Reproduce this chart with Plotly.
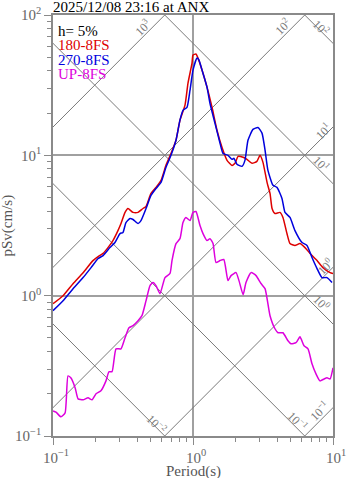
import numpy as np
import plotly.graph_objects as go

# ---- data -----------------------------------------------------------------
title_text = "2025/12/08 23:16 at ANX"
damping_text = "h= 5%"

names = ["180-8FS", "270-8FS", "UP-8FS"]
colors = ["#dd0000", "#0000dd", "#dd00dd"]

period_180 = [0.100, 0.118, 0.139, 0.164, 0.193, 0.210, 0.228, 0.247, 0.268, 0.291,
              0.306, 0.327, 0.343, 0.373, 0.405, 0.439, 0.462, 0.501, 0.544, 0.591,
              0.641, 0.696, 0.756, 0.807, 0.877, 0.921, 0.984, 1.000, 1.050, 1.086,
              1.160, 1.259, 1.367, 1.484, 1.610, 1.750, 1.900, 1.995, 2.100, 2.280,
              2.430, 2.640, 2.860, 3.010, 3.160, 3.380, 3.550, 3.670, 3.850, 4.180,
              4.390, 4.690, 4.930, 5.350, 5.810, 6.310, 6.850, 7.690, 8.480, 9.530, 10.0]
psv_180 = [0.877, 1.000, 1.218, 1.459, 1.778, 1.90, 2.00, 2.20, 2.47, 2.91,
           3.27, 3.92, 4.18, 3.92, 3.92, 4.18, 4.32, 5.35, 5.91, 6.63,
           8.48, 10.3, 12.8, 17.8, 22.8, 32.7, 45.4, 51.8, 52.7, 49.3,
           40.5, 30.6, 22.0, 15.1, 11.4, 9.21, 8.48, 8.77, 9.84, 9.68,
           9.36, 8.77, 9.06, 10.0, 8.91, 6.41, 5.35, 4.18, 3.85, 3.92,
           3.61, 2.77, 2.35, 2.28, 2.35, 2.20, 2.00, 1.78, 1.585, 1.46, 1.44]

period_270 = [0.100, 0.118, 0.139, 0.164, 0.187, 0.210, 0.228, 0.255, 0.277, 0.301,
              0.316, 0.332, 0.355, 0.373, 0.405, 0.425, 0.462, 0.501, 0.544, 0.591,
              0.641, 0.696, 0.756, 0.807, 0.848, 0.906, 0.952, 1.000, 1.068, 1.104,
              1.160, 1.259, 1.322, 1.436, 1.560, 1.640, 1.778, 1.900, 1.960, 2.060,
              2.240, 2.350, 2.470, 2.680, 2.910, 3.110, 3.270, 3.430, 3.730, 3.980,
              4.320, 4.540, 4.930, 5.350, 6.010, 6.520, 7.080, 7.690, 8.340, 9.060, 9.840]
psv_270 = [0.782, 0.921, 1.122, 1.345, 1.585, 1.84, 1.93, 2.20, 2.39, 2.77,
           2.82, 3.32, 3.55, 3.49, 3.27, 3.43, 4.18, 5.18, 5.81, 6.41,
           8.21, 10.0, 12.8, 17.8, 20.9, 22.0, 29.1, 40.5, 49.3, 47.7,
           40.5, 30.6, 23.5, 16.9, 12.2, 10.3, 10.0, 9.36, 9.53, 8.63,
           8.35, 9.21, 12.8, 15.3, 15.8, 14.4, 10.9, 7.81, 6.11, 5.91,
           4.93, 3.92, 3.61, 2.91, 2.39, 2.28, 1.87, 1.56, 1.345, 1.345, 1.24]

period_up = [0.100, 0.105, 0.114, 0.122, 0.128, 0.134, 0.144, 0.151, 0.164, 0.178,
             0.190, 0.203, 0.220, 0.239, 0.251, 0.264, 0.282, 0.306, 0.327, 0.349,
             0.373, 0.405, 0.432, 0.462, 0.493, 0.518, 0.544, 0.581, 0.631, 0.685,
             0.708, 0.756, 0.807, 0.848, 0.891, 0.952, 1.000, 1.050, 1.122, 1.179,
             1.259, 1.322, 1.390, 1.460, 1.560, 1.660, 1.778, 1.870, 2.030, 2.130,
             2.280, 2.390, 2.600, 2.820, 3.060, 3.270, 3.550, 3.850, 4.050, 4.390,
             4.770, 5.010, 5.440, 5.810, 6.210, 6.630, 7.080, 7.560, 8.070, 8.630,
             9.060, 9.530, 10.0]
psv_up = [0.151, 0.148, 0.137, 0.146, 0.268, 0.260, 0.220, 0.184, 0.181, 0.187,
          0.181, 0.200, 0.210, 0.247, 0.287, 0.287, 0.418, 0.418, 0.501, 0.591,
          0.611, 0.663, 0.720, 0.921, 1.179, 1.24, 1.179, 1.033, 1.345, 1.44,
          1.78, 2.35, 2.55, 3.32, 3.61, 3.43, 3.92, 3.98, 3.16, 2.77,
          2.47, 2.55, 2.35, 1.72, 1.78, 1.81, 1.28, 1.39, 1.46, 1.28,
          1.016, 1.24, 1.46, 1.39, 1.22, 1.122, 0.720, 0.581, 0.544, 0.544,
          0.477, 0.454, 0.462, 0.509, 0.439, 0.418, 0.327, 0.277, 0.247, 0.255,
          0.260, 0.255, 0.306]

# tripartite guide levels
sd_levels = [0.01, 0.1, 1, 10, 100]      # displacement, cm
sa_levels = [0.1, 1, 10, 100, 1000]      # acceleration, cm/s^2

decade_vals = [0.1, 1, 10, 100]
decade_text = ["10<sup>\u22121</sup>", "10<sup>0</sup>", "10<sup>1</sup>", "10<sup>2</sup>"]

# ---- style ----------------------------------------------------------------
FONT = "Liberation Serif, Times New Roman, serif"
GUIDE = "#7a7a7a"
GRID = "#a0a0a0"
FRAME = "#8a8a8a"
TICKTXT = "#666666"

fig = go.Figure()

# constant displacement / acceleration guide lines
t_span = np.array([0.01, 100.0])
for sd in sd_levels:
    fig.add_trace(go.Scatter(x=t_span, y=2 * np.pi * sd / t_span, mode="lines",
                             line=dict(color=GUIDE, width=1), hoverinfo="skip",
                             showlegend=False))
for sa in sa_levels:
    fig.add_trace(go.Scatter(x=t_span, y=sa * t_span / (2 * np.pi), mode="lines",
                             line=dict(color=GUIDE, width=1), hoverinfo="skip",
                             showlegend=False))

# spectra
for name, col, t, v in zip(names, colors,
                           [period_180, period_270, period_up],
                           [psv_180, psv_270, psv_up]):
    fig.add_trace(go.Scatter(x=t, y=v, mode="lines", name=name,
                             line=dict(color=col, width=1.5, shape="spline",
                                       smoothing=0.5),
                             showlegend=False))


def sup(v):
    e = int(round(np.log10(v)))
    return "10<sup>" + ("\u2212" if e < 0 else "") + str(abs(e)) + "</sup>"


annotations = []
# guide labels: (level, period where label sits, vertical offset in px)
sa_label_pos = {1000: (0.439, 9), 100: (4.39, 10), 10: (8.45, 6), 1: (8.8, 9), 0.1: (8.07, 10)}
sd_label_pos = {100: (8.2, 4), 10: (8.2, 8), 1: (8.2, 9), 0.1: (5.62, 8), 0.01: (0.553, 4)}
for sa, (tl, ys) in sa_label_pos.items():
    annotations.append(dict(x=np.log10(tl), y=np.log10(sa * tl / (2 * np.pi)),
                            xref="x", yref="y", text=sup(sa), showarrow=False,
                            textangle=-45, yshift=ys,
                            font=dict(family=FONT, size=12, color=GUIDE)))
for sd, (tl, ys) in sd_label_pos.items():
    annotations.append(dict(x=np.log10(tl), y=np.log10(2 * np.pi * sd / tl),
                            xref="x", yref="y", text=sup(sd), showarrow=False,
                            textangle=45, yshift=ys,
                            font=dict(family=FONT, size=12, color=GUIDE)))

# legend block in the upper-left corner
legend_lines = [(damping_text, "#000000")] + list(zip(names, colors))
legend_y = [0.962, 0.928, 0.893, 0.860]
for (txt, col), yy in zip(legend_lines, legend_y):
    annotations.append(dict(x=0.012, y=yy, xref="paper", yref="paper", text=txt,
                            showarrow=False, xanchor="left", yanchor="middle",
                            font=dict(family=FONT, size=15, color=col)))

# title and axis titles
annotations.append(dict(x=0, y=1, xref="paper", yref="paper", text=title_text,
                        showarrow=False, xanchor="left", yanchor="bottom",
                        xshift=-2, yshift=-2,
                        font=dict(family=FONT, size=15, color="#000000")))
annotations.append(dict(x=0.5, y=0, xref="paper", yref="paper", text="Period(s)",
                        showarrow=False, xanchor="center", yanchor="middle",
                        yshift=-35, font=dict(family=FONT, size=15, color="#555555")))
annotations.append(dict(x=0, y=0.5, xref="paper", yref="paper", text="pSv(cm/s)",
                        showarrow=False, xanchor="center", yanchor="middle",
                        textangle=-90, xshift=-46,
                        font=dict(family=FONT, size=15, color="#555555")))

minor_vals = [m * 10.0 ** e for e in (-2, -1, 0, 1) for m in range(2, 10)]

axis_common = dict(
    type="log", tickmode="array", tickvals=decade_vals, ticktext=decade_text,
    ticks="outside", ticklen=7, tickwidth=1, tickcolor=FRAME,
    showline=True, mirror=True, linecolor=FRAME, linewidth=1.5,
    showgrid=True, gridcolor=GRID, gridwidth=1.5, zeroline=False,
    automargin=False, ticklabeloverflow="allow",
    tickfont=dict(family=FONT, size=15, color=TICKTXT),
    minor=dict(tickmode="array", tickvals=minor_vals, ticks="outside", ticklen=4,
               tickwidth=1, tickcolor=FRAME, showgrid=False),
)

fig.update_layout(
    width=347, height=478,
    margin=dict(l=53, r=14, t=15, b=42, autoexpand=False),
    paper_bgcolor="white", plot_bgcolor="white",
    xaxis=dict(range=[-1, 1], ticklabelshift=3, **axis_common),
    yaxis=dict(range=[-1, 2], **axis_common),
    annotations=annotations,
    showlegend=False,
)

fig.write_html("out.html")
